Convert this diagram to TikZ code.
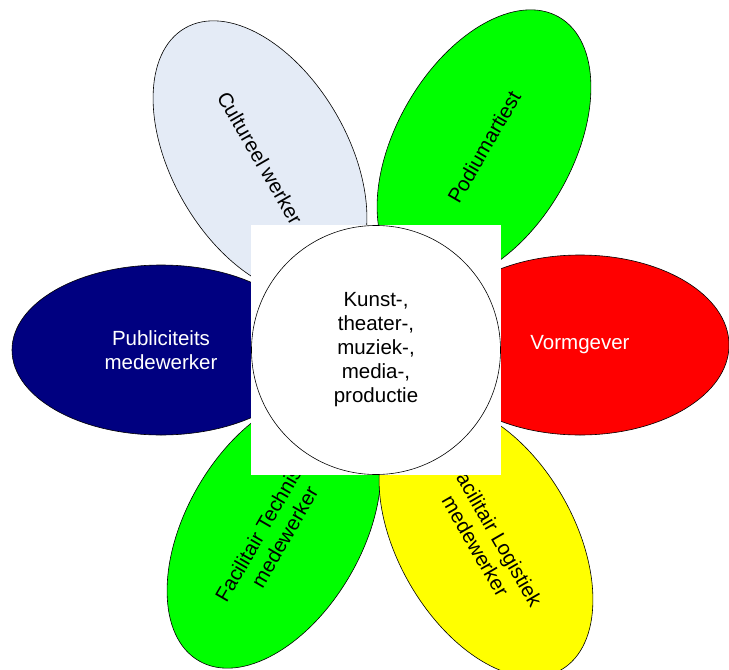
\documentclass[tikz,border=0pt]{standalone}
\usepackage{fontspec}
\setmainfont{Liberation Sans}
\usetikzlibrary{shapes.geometric}
\definecolor{petalblue}{RGB}{228,235,246}
\definecolor{petalnavy}{RGB}{0,0,128}
\definecolor{petalgreen}{RGB}{0,255,0}
\definecolor{petalred}{RGB}{255,0,0}
\definecolor{petalyellow}{RGB}{255,255,0}
\begin{document}
\begin{tikzpicture}[x=1pt,y=-1pt,
  labelfont/.style={font=\fontsize{20.5}{24}\selectfont},
  petal/.style={ellipse, draw=black, line width=0.6pt, inner sep=0pt,
    minimum width=300pt, minimum height=176pt, align=center, labelfont},
  backing/.style={fill=white, inner sep=0pt, minimum size=250pt},
  hubdisc/.style={circle, draw=black, line width=0.6pt, fill=white,
    inner sep=0pt, minimum size=249pt, align=center, labelfont}]
\useasboundingbox (0,0) rectangle (729,670);

% petals
\node (cultureel) [petal, fill=petalblue, rotate=-60] at (260,158) {Cultureel werker};
\node (podium) [petal, fill=petalgreen, rotate=60] at (484,147) {Podiumartiest};
\node (publiciteit) [petal, fill=petalnavy, text=white, minimum width=298pt,
  minimum height=170pt] at (161,350) {Publiciteits\\medewerker};
\node (vormgever) [petal, fill=petalred, text=white, minimum width=298pt,
  minimum height=180pt] at (580,345) {Vormgever};
\node (techniek) [petal, fill=petalgreen, rotate=60] at (274,531) {Facilitair Technisch\\medewerker};
\node (logistiek) [petal, fill=petalyellow, rotate=-60] at (486,540) {Facilitair Logistiek\\medewerker};

% heart of the flower
\node (square) [backing] at (376,350) {};
\node (hub) [hubdisc] at (376,350) {Kunst-,\\theater-,\\muziek-,\\media-,\\productie};
\end{tikzpicture}
\end{document}
